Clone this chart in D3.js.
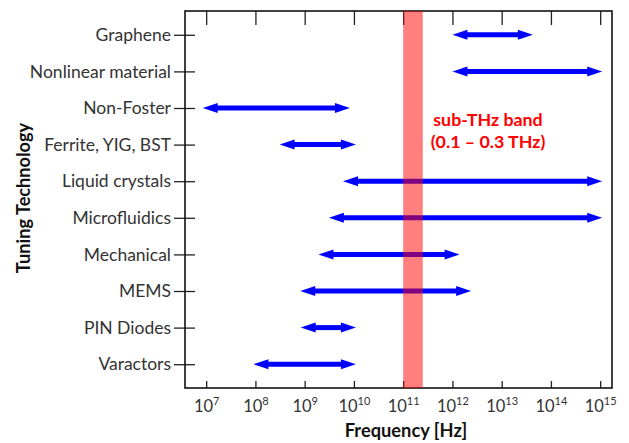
<!DOCTYPE html>
<html>
<head>
<meta charset="utf-8">
<script src="https://cdn.jsdelivr.net/npm/d3@7"></script>
<style>
  body { margin: 0; background: #fff; }
  text { font-family: Lato, "Open Sans", sans-serif; }
</style>
</head>
<body>
<div id="canvas"></div>
<script>
// categories, top to bottom
const techs = ["Graphene", "Nonlinear material", "Non-Foster", "Ferrite, YIG, BST",
  "Liquid crystals", "Microfluidics", "Mechanical", "MEMS", "PIN Diodes", "Varactors"];
// tuning range, Hz
const lowHz = [1e12, 1e12, 8.5e6, 3.1e8, 6e9, 3.1e9, 1.9e9, 8.1e8, 8.3e8, 9.1e7];
const highHz = [4.3e13, 1.1e15, 8.3e9, 1.1e10, 1.1e15, 1.1e15, 1.4e12, 2.4e12, 1.1e10, 1.1e10];
// sub-THz band
const band = [1e11, 2.5e11];
const decades = [7, 8, 9, 10, 11, 12, 13, 14, 15];

const width = 629, height = 443;
const margin = { top: 11, bottom: 55, left: 185, right: 17 };

const svg = d3.select("#canvas").append("svg")
  .attr("width", width).attr("height", height);

const x = d3.scaleLog()
  .domain([Math.pow(10, 6.57), Math.pow(10, 15.24)])
  .range([margin.left, width - margin.right]);

const y = d3.scalePoint()
  .domain(techs)
  .range([margin.top, height - margin.bottom])
  .padding(0.65);

const bottom = height - margin.bottom;
const blue = "#0000ff";

// bottom axis, ticks point inward
svg.append("g")
  .attr("transform", `translate(0, ${bottom})`)
  .call(d3.axisBottom(x).tickValues(decades.map(d => Math.pow(10, d))).tickSize(-7).tickSizeOuter(0).tickPadding(18))
  .call(g => g.select(".domain").remove())
  .call(g => g.selectAll(".tick line").attr("stroke", "#222").attr("stroke-width", 1.3))
  .call(g => g.selectAll(".tick text").each(function (d, i) {
    const t = d3.select(this).text(null)
      .attr("font-size", 16.5).attr("fill", "#333").attr("dy", "0.35em");
    t.append("tspan").text("10");
    t.append("tspan").text(decades[i]).attr("font-size", 11).attr("dy", "-0.6em");
  }));

// top axis, longer inward ticks
svg.append("g")
  .attr("transform", `translate(0, ${margin.top})`)
  .call(d3.axisTop(x).tickValues(decades.map(d => Math.pow(10, d))).tickSize(-14).tickSizeOuter(0).tickFormat(""))
  .call(g => g.select(".domain").remove())
  .call(g => g.selectAll(".tick line").attr("stroke", "#222").attr("stroke-width", 1.3));

// left axis, ticks cross the frame
svg.append("g")
  .attr("transform", `translate(${margin.left}, 0)`)
  .call(d3.axisLeft(y).tickSize(11).tickPadding(3).tickSizeOuter(0))
  .call(g => g.select(".domain").remove())
  .call(g => g.selectAll(".tick line").attr("x2", 10).attr("x1", -11)
    .attr("stroke", "#222").attr("stroke-width", 1.3))
  .call(g => g.selectAll(".tick text").attr("font-size", 17.5).attr("fill", "#333"));

// frame
svg.append("rect")
  .attr("x", margin.left).attr("y", margin.top)
  .attr("width", width - margin.right - margin.left)
  .attr("height", bottom - margin.top)
  .attr("fill", "none").attr("stroke", "#111").attr("stroke-width", 1.6);

// double-headed arrows
const head = 15, hh = 5;
const arrows = svg.append("g");
techs.forEach((t, i) => {
  const x1 = x(lowHz[i]), x2 = x(highHz[i]), yy = y(t);
  arrows.append("line")
    .attr("x1", x1 + head - 2).attr("x2", x2 - head + 2)
    .attr("y1", yy).attr("y2", yy)
    .attr("stroke", blue).attr("stroke-width", 5);
  arrows.append("path")
    .attr("d", `M${x1},${yy}L${x1 + head},${yy - hh}L${x1 + head},${yy + hh}Z`)
    .attr("fill", blue);
  arrows.append("path")
    .attr("d", `M${x2},${yy}L${x2 - head},${yy - hh}L${x2 - head},${yy + hh}Z`)
    .attr("fill", blue);
});

// sub-THz band
svg.append("rect")
  .attr("x", x(band[0])).attr("y", margin.top)
  .attr("width", x(band[1]) - x(band[0]))
  .attr("height", bottom - margin.top)
  .attr("fill", "#ff0000").attr("fill-opacity", 0.5);

svg.append("text")
  .attr("x", 488).attr("y", 126)
  .attr("text-anchor", "middle").attr("font-size", 17.8).attr("font-weight", "bold")
  .attr("fill", "#ff0000").text("sub-THz band");
svg.append("text")
  .attr("x", 488).attr("y", 148)
  .attr("text-anchor", "middle").attr("font-size", 17.8).attr("font-weight", "bold")
  .attr("fill", "#ff0000").text("(0.1 – 0.3 THz)");

// axis titles
svg.append("text")
  .attr("x", 406).attr("y", 437)
  .attr("text-anchor", "middle").attr("font-size", 18.3).attr("font-weight", "bold")
  .attr("fill", "#111").text("Frequency [Hz]");
svg.append("text")
  .attr("transform", "translate(30, 198) rotate(-90)")
  .attr("text-anchor", "middle").attr("font-size", 18.2).attr("font-weight", "bold")
  .attr("fill", "#111").text("Tuning Technology");
</script>
</body>
</html>
